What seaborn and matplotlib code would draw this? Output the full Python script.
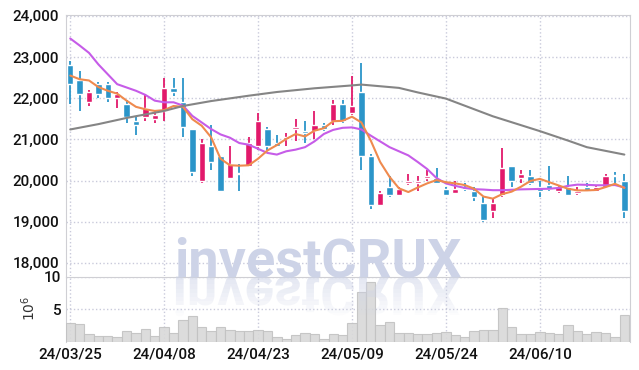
import numpy as np
import pandas as pd
import seaborn as sns
import matplotlib.pyplot as plt
from matplotlib.textpath import TextPath
from matplotlib.patches import PathPatch, Rectangle
from matplotlib.font_manager import FontProperties
from matplotlib.transforms import Affine2D, IdentityTransform
import warnings
warnings.filterwarnings('ignore')

# trading days (yy/mm/dd)
dates = ['24/03/25', '24/03/26', '24/03/27', '24/03/28', '24/03/29', '24/04/01', '24/04/02', '24/04/03',
         '24/04/04', '24/04/05', '24/04/08', '24/04/09', '24/04/11', '24/04/12', '24/04/15', '24/04/16',
         '24/04/17', '24/04/18', '24/04/19', '24/04/22', '24/04/23', '24/04/24', '24/04/25', '24/04/26',
         '24/04/29', '24/04/30', '24/05/02', '24/05/03', '24/05/07', '24/05/08', '24/05/09', '24/05/10',
         '24/05/13', '24/05/14', '24/05/16', '24/05/17', '24/05/20', '24/05/21', '24/05/22', '24/05/23',
         '24/05/24', '24/05/27', '24/05/28', '24/05/29', '24/05/30', '24/05/31', '24/06/03', '24/06/04',
         '24/06/05', '24/06/07', '24/06/10', '24/06/11', '24/06/12', '24/06/13', '24/06/14', '24/06/17',
         '24/06/18', '24/06/19', '24/06/20', '24/06/21']

open_ = [22800, 22450, 21900, 22350, 22350, 22000, 21850, 21450, 21550, 21500,
         21700, 22250, 21900, 21250, 20000, 20850, 20600, 20050, 20150, 20350,
         20850, 21250, 20900, 21000, 21250, 21200, 21200, 21350, 21450, 21850,
         21650, 22150, 20600, 19400, 19850, 19650, 19950, 19950, 20050, 20050,
         19800, 19700, 19850, 19750, 19450, 19250, 19650, 20350, 20050, 20100,
         19850, 19900, 19750, 19850, 19700, 19850, 19750, 19850, 20100, 20000]
high = [22900, 22650, 22200, 22400, 22400, 22150, 21950, 21550, 22100, 21700,
        22500, 22500, 22500, 21250, 21000, 21350, 20600, 20850, 20400, 21050,
        21650, 21300, 21100, 21150, 21500, 21450, 21700, 21400, 21950, 21950,
        22550, 22850, 20650, 19750, 20100, 19850, 20150, 20100, 20250, 20300,
        19850, 20000, 19950, 19850, 19600, 19550, 20800, 20350, 20250, 20250,
        20000, 20350, 19900, 20100, 19850, 19950, 19900, 20150, 20200, 20150]
low = [21850, 21700, 21800, 22000, 21900, 21750, 21400, 21100, 21450, 21400,
       21450, 22050, 21050, 20100, 19950, 20250, 19750, 20050, 19750, 20350,
       20750, 20750, 20850, 20850, 20950, 20900, 21000, 21200, 21350, 21400,
       21600, 20250, 19300, 19400, 19600, 19650, 19900, 19750, 20000, 19950,
       19650, 19700, 19750, 19500, 19000, 19100, 19600, 19850, 19950, 19900,
       19600, 19750, 19700, 19650, 19650, 19750, 19750, 19850, 19950, 19100]
close = [22350, 22100, 22150, 22100, 22000, 22100, 21550, 21350, 21750, 21600,
         22250, 22150, 21300, 20200, 20900, 20450, 19750, 20400, 20150, 20900,
         21450, 20850, 20850, 21050, 21300, 21150, 21350, 21250, 21850, 21450,
         21800, 20600, 19400, 19700, 19650, 19800, 20000, 20000, 20100, 19950,
         19650, 19800, 19800, 19600, 19050, 19450, 20300, 20000, 20150, 19950,
         19750, 19800, 19850, 19650, 19750, 19750, 19850, 20100, 20100, 19250]

# moving averages as drawn on the chart
ma_short = [22550, 22460, 22430, 22270, 22180, 22110, 21940, 21790, 21730, 21690,
            21710, 21810, 21790, 21490, 21330, 21050, 20530, 20370, 20360, 20370,
            20530, 20730, 20860, 21010, 21130, 21070, 21210, 21270, 21440, 21450,
            21550, 21410, 20970, 20450, 20090, 19810, 19720, 19830, 19930, 20010,
            19960, 19930, 19890, 19800, 19610, 19560, 19670, 19730, 19850, 19990,
            20040, 19960, 19880, 19800, 19760, 19760, 19770, 19840, 19920, 19820]
ma_mid = [23450, 23280, 23100, 22820, 22580, 22340, 22260, 22180, 22080, 21940,
          21900, 21900, 21820, 21570, 21410, 21250, 21120, 21040, 20910, 20870,
          20770, 20670, 20630, 20710, 20750, 20810, 20950, 21130, 21230, 21280,
          21290, 21240, 21090, 20950, 20810, 20710, 20610, 20450, 20280, 20060,
          19930, 19870, 19820, 19790, 19780, 19765, 19765, 19775, 19785, 19790,
          19795, 19800, 19820, 19870, 19900, 19895, 19885, 19885, 19890, 19830]
ma_long_idx = [0, 3, 6, 10, 12, 15, 19, 22, 26, 30, 31, 35, 37, 40, 45, 50, 53, 55, 59]
ma_long = [21240, 21370, 21520, 21690, 21810, 21930, 22060, 22150, 22240, 22310,
           22330, 22250, 22140, 21990, 21560, 21200, 20970, 20810, 20630]

# volume in millions
volume = [2.87, 2.72, 1.18, 0.97, 0.97, 0.82, 1.74, 1.33, 1.95, 0.87,
          2.26, 1.38, 3.33, 3.95, 2.26, 1.66, 2.26, 1.85, 1.69, 1.69,
          1.79, 1.64, 0.72, 0.51, 1.03, 1.33, 1.18, 0.51, 1.18, 1.03,
          2.87, 7.64, 9.18, 2.56, 3.03, 1.33, 1.33, 1.23, 1.23, 1.33,
          1.49, 1.13, 0.82, 1.69, 1.79, 1.79, 5.18, 2.26, 1.18, 1.23,
          1.49, 1.33, 1.23, 2.56, 1.69, 1.18, 1.49, 1.38, 0.82, 4.15]

price_ticks = [18000, 19000, 20000, 21000, 22000, 23000, 24000]
date_ticks = [0, 10, 20, 30, 40, 50]

df = pd.DataFrame({'date': dates, 'open': open_, 'high': high, 'low': low,
                   'close': close, 'ma5': ma_short, 'ma20': ma_mid, 'volume': volume})
df['x'] = np.arange(len(df))
df['up'] = df.close > df.open

sns.set_style('white')
plt.rcParams['font.family'] = ['Roboto', 'DejaVu Sans']

RED = '#e2196b'
BLUE = '#2b95c9'
GRID = '#c9cadb'
SPINE = '#cfcfd4'

fig = plt.figure(figsize=(6.39, 3.70), dpi=100)
ax = fig.add_axes([0.1033, 0.2540, 0.8826, 0.7054])
axv = fig.add_axes([0.1033, 0.0757, 0.8826, 0.1757], sharex=ax)

# watermark
wm_color = '#cdd3e7'
wm_x, wm_y = 0.497, 0.253
fig.text(wm_x, wm_y, 'investCRUX', fontsize=39, fontweight='bold', color=wm_color,
         ha='center', va='baseline', zorder=0, family='Roboto')

# mirrored watermark under the separator line, fading out
fp = FontProperties(family='Roboto', weight='bold', size=39)
tp = TextPath((0, 0), 'investCRUX', prop=fp)
ext = tp.get_extents()
k = fig.dpi / 72.0
x0 = wm_x * fig.bbox.width - (ext.x0 + ext.width / 2) * k
y0 = wm_y * fig.bbox.height
n_bands = 10
band_h = ext.height * k / n_bands
for j in range(n_bands):
    refl = PathPatch(tp, transform=Affine2D().scale(k, -k).translate(x0, y0),
                     facecolor=wm_color, edgecolor='none', alpha=0.55 * (1 - j / n_bands), zorder=0)
    clip = Rectangle((0, y0 - band_h * (j + 1)), fig.bbox.width, band_h, transform=IdentityTransform())
    refl.set_clip_path(clip)
    fig.patches.append(refl)

# candles
colors = [RED if u else BLUE for u in df.up]
ax.vlines(df.x, df.low, df.high, colors=colors, linewidth=1.3, zorder=3)
body_bottom = np.minimum(df.open, df.close)
body_height = np.maximum(np.abs(df.close - df.open), 25)
ax.bar(df.x, body_height, bottom=body_bottom, width=0.68, color=colors, zorder=4)

# moving averages
sns.lineplot(x='x', y='ma20', data=df, ax=ax, color='#c65ce8', linewidth=1.5, zorder=5)
sns.lineplot(x='x', y='ma5', data=df, ax=ax, color='#ef8a4e', linewidth=1.5, zorder=5)
sns.lineplot(x=ma_long_idx, y=ma_long, ax=ax, color='#858585', linewidth=1.5, zorder=5)

ax.set_ylim(17680, 24020)
ax.set_yticks(price_ticks)
ax.set_yticklabels([f'{p:,}' for p in price_ticks], fontweight='medium')
ax.set_xlim(-0.45, 59.6)
ax.set_xticks(date_ticks)
ax.tick_params(axis='x', labelbottom=False, length=0)
ax.tick_params(axis='y', length=0, labelsize=11, colors='#111111', pad=5)
ax.grid(True, color=GRID, linestyle=':', linewidth=1.0)
ax.set_xlabel('')
ax.set_ylabel('')
for s in ['left', 'right', 'top']:
    ax.spines[s].set_color(SPINE)
ax.spines['bottom'].set_visible(False)
ax.patch.set_alpha(0)

# volume
axv.bar(df.x, df.volume, width=1.0, color='#d9d9d9', edgecolor='#c2c2c2', linewidth=0.8, alpha=0.9, zorder=3)
axv.set_ylim(0, 10)
axv.set_yticks([5, 10])
axv.set_yticklabels(['5', '10'], fontweight='medium')
axv.set_xticks(date_ticks)
axv.set_xticklabels([dates[i] for i in date_ticks], fontweight='medium')
axv.tick_params(axis='both', length=0, labelsize=11, colors='#111111')
axv.tick_params(axis='x', pad=4)
axv.grid(True, color=GRID, linestyle=':', linewidth=1.0)
axv.set_ylabel('10$^6$', fontsize=10, color='#333333', family='DejaVu Sans')
axv.yaxis.set_label_coords(-0.05, 0.52)
for s in ['left', 'right', 'top']:
    axv.spines[s].set_color(SPINE)
axv.spines['bottom'].set_visible(False)
axv.patch.set_alpha(0)

fig.savefig('out.png', dpi=100)
